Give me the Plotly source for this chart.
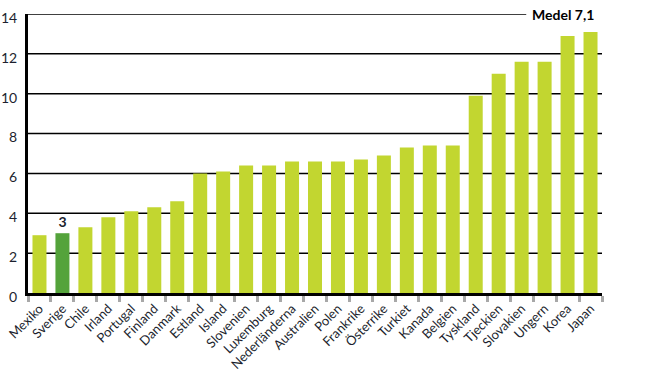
import plotly.graph_objects as go

countries = ["Mexiko", "Sverige", "Chile", "Irland", "Portugal", "Finland", "Danmark",
             "Estland", "Island", "Slovenien", "Luxemburg", "Nederländerna", "Australien",
             "Polen", "Frankrike", "Österrike", "Turkiet", "Kanada", "Belgien", "Tyskland",
             "Tjeckien", "Slovakien", "Ungern", "Korea", "Japan"]
values = [2.9, 3.0, 3.3, 3.8, 4.1, 4.3, 4.6, 6.0, 6.1, 6.4, 6.4, 6.6, 6.6,
          6.6, 6.7, 6.9, 7.3, 7.4, 7.4, 9.9, 11.0, 11.6, 11.6, 12.9, 13.1]
highlight = "Sverige"
average = 7.1
y_ticks = [0, 2, 4, 6, 8, 10, 12, 14]

LIGHT = "#c2d630"
DARK = "#54a33b"
TEXT = "#1c1f2e"

colors = [DARK if c == highlight else LIGHT for c in countries]
labels = [f"{v:g}" if c == highlight else "" for c, v in zip(countries, values)]

fig = go.Figure(go.Bar(
    x=countries, y=values, marker=dict(color=colors, line=dict(width=0)),
    text=labels, textposition="outside", cliponaxis=False,
    textfont=dict(family="Lato", size=14, color=TEXT, weight="bold"),
    hoverinfo="x+y",
))

shapes = []
for t in y_ticks[1:]:
    x1 = 0.868 if t == y_ticks[-1] else 1
    shapes.append(dict(type="line", xref="paper", yref="y", x0=0, x1=x1, y0=t, y1=t,
                       line=dict(color="black", width=1.5), layer="below"))

fig.update_layout(
    width=653, height=371,
    margin=dict(l=28, r=51, t=14, b=78, autoexpand=False),
    paper_bgcolor="white", plot_bgcolor="white",
    bargap=0.39, showlegend=False,
    font=dict(family="Lato", size=13, color=TEXT),
    shapes=shapes,
    annotations=[dict(xref="paper", yref="y", x=0.99, y=y_ticks[-1],
                      text=f"<b>Medel {average:g}</b>".replace(".", ","),
                      showarrow=False, xanchor="right", yanchor="middle",
                      font=dict(family="Lato", size=14, color="black"))],
    xaxis=dict(showline=True, linewidth=3, linecolor="black", automargin=False,
               ticks="outside", tickson="boundaries", ticklen=6, tickwidth=3,
               tickcolor="#a8a8a8", tickangle=-45,
               tickfont=dict(family="Lato", size=13, color=TEXT)),
    yaxis=dict(range=[0, 14], tickvals=y_ticks, showgrid=False, zeroline=False,
               automargin=False,
               showline=True, linewidth=3, linecolor="black", ticks="",
               ticklabelshift=4, ticklabelstandoff=5,
               tickfont=dict(family="Lato", size=14, color=TEXT)),
)

fig.write_html("out.html", config={"displayModeBar": False},
               post_script="document.body.style.margin='0px';document.body.style.overflow='hidden';")
